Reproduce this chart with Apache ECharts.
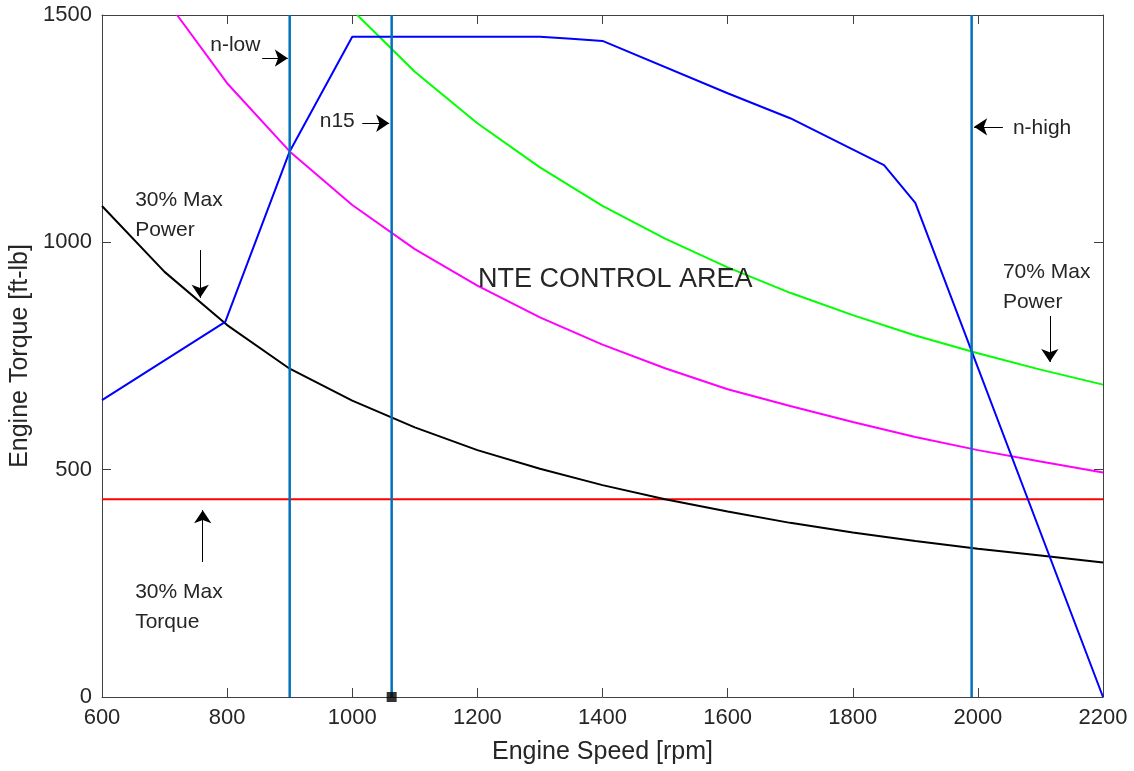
<!DOCTYPE html>
<html>
<head>
<meta charset="utf-8">
<script src="https://cdn.jsdelivr.net/npm/echarts@6/dist/echarts.min.js"></script>
<style>html,body{margin:0;padding:0;background:#fff}#c{width:1134px;height:771px}</style>
</head>
<body>
<div id="c"></div>
<script>
// ---- data ----
const xTicks = [600, 800, 1000, 1200, 1400, 1600, 1800, 2000, 2200];
const yTicks = [0, 500, 1000, 1500];

// lug curve (max torque curve)
const lugCurve = [[600,653],[797,825],[900,1200],[1000,1452],[1300,1452],[1350,1448],[1400,1443],[1600,1328],[1700,1273],[1850,1170],[1900,1087],[2200,0]];
// 30% of max power
const power30 = [[600,1080],[700,935],[800,818],[900,722],[1000,652],[1100,593],[1200,543],[1300,502],[1400,466],[1500,435],[1600,408],[1700,383],[1800,362],[1900,343],[2000,326],[2100,311],[2200,296]];
// 50% of max power
const power50 = [[720,1500],[800,1350],[900,1200],[1000,1082],[1100,985],[1200,905],[1300,835],[1400,775],[1500,723],[1600,677],[1700,640],[1800,605],[1900,572],[2000,543],[2100,518],[2200,494]];
// 70% of max power
const power70 = [[1008,1500],[1100,1375],[1200,1262],[1300,1165],[1400,1080],[1500,1008],[1600,945],[1700,889],[1800,840],[1900,795],[2000,756],[2100,720],[2200,687]];
// 30% of max torque
const torque30 = [[600,435],[2200,435]];
// speed limits
const nLow = 900, n15 = 1063, nHigh = 1990;
const markerPoint = [[1063, 0]];

// annotations: [text, x, y(center), fontSize]
const labels = [
  ['n-low', 773, 1434, 21],
  ['n15', 948, 1267, 21],
  ['n-high', 2056, 1251, 21],
  ['NTE CONTROL AREA', 1201, 919, 27],
  ['30% Max', 653, 1093, 21],
  ['Power', 653, 1027, 21],
  ['70% Max', 2040, 935, 21],
  ['Power', 2040, 869, 21],
  ['30% Max', 653, 231, 21],
  ['Torque', 653, 165, 21]
];
// arrows: [[x1,y1],[x2,y2]] (head at second point)
const arrows = [
  [[856, 1405], [897, 1405]],
  [[1016, 1262], [1059, 1262]],
  [[2040, 1254], [1994, 1254]],
  [[757, 983], [757, 878]],
  [[2115, 838], [2115, 737]],
  [[761, 297], [761, 411]]
];

const TXT = '#262626', AX = '#404040';
const FONT = '"Liberation Sans", Arial, Helvetica, sans-serif';

const chart = echarts.init(document.getElementById('c'), null, {renderer: 'canvas'});

function vline(x) { return [[x, 0], [x, 1500]]; }
function lineSeries(data, color, width) {
  return {type: 'line', data: data, symbol: 'none', clip: true, silent: true,
    lineStyle: {color: color, width: width}, xAxisIndex: 0, yAxisIndex: 0, z: 3};
}
const plain = v => String(v);

const baseX = {type: 'value', min: 600, max: 2200, interval: 200};
const baseY = {type: 'value', min: 0, max: 1500, interval: 500};

chart.setOption({
  animation: false,
  backgroundColor: '#fff',
  grid: {left: 102, right: 31, top: 15, bottom: 74, containLabel: false, outerBoundsMode: 'none'},
  xAxis: [
    Object.assign({}, baseX, {
      position: 'bottom',
      name: 'Engine Speed [rpm]', nameLocation: 'middle', nameGap: 43,
      nameTextStyle: {color: TXT, fontSize: 25, fontFamily: FONT},
      axisLine: {show: true, onZero: false, lineStyle: {color: AX, width: 1}},
      axisTick: {show: true, inside: true, length: 9, lineStyle: {color: AX}},
      axisLabel: {color: TXT, fontSize: 22, fontFamily: FONT, margin: 10,
        customValues: xTicks, formatter: plain},
      splitLine: {show: false}
    }),
    Object.assign({}, baseX, {
      position: 'top',
      axisLine: {show: true, onZero: false, lineStyle: {color: AX, width: 1}},
      axisTick: {show: true, inside: true, length: 9, lineStyle: {color: AX}},
      axisLabel: {show: false}, splitLine: {show: false}
    })
  ],
  yAxis: [
    Object.assign({}, baseY, {
      position: 'left',
      name: 'Engine Torque [ft-lb]', nameLocation: 'middle', nameGap: 66,
      nameTextStyle: {color: TXT, fontSize: 25, fontFamily: FONT},
      axisLine: {show: true, onZero: false, lineStyle: {color: AX, width: 1}},
      axisTick: {show: true, inside: true, length: 9, lineStyle: {color: AX}},
      axisLabel: {color: TXT, fontSize: 22, fontFamily: FONT, margin: 10,
        customValues: yTicks, formatter: plain},
      splitLine: {show: false}
    }),
    Object.assign({}, baseY, {
      position: 'right',
      axisLine: {show: true, onZero: false, lineStyle: {color: AX, width: 1}},
      axisTick: {show: true, inside: true, length: 9, lineStyle: {color: AX}},
      axisLabel: {show: false}, splitLine: {show: false}
    })
  ],
  series: [
    lineSeries(torque30, '#ff0000', 2),
    lineSeries(power30, '#000000', 2),
    lineSeries(power50, '#ff00ff', 2),
    lineSeries(power70, '#00ff00', 2),
    lineSeries(lugCurve, '#0000ff', 2),
    lineSeries(vline(nLow), '#0072BD', 2.5),
    lineSeries(vline(n15), '#0072BD', 2.5),
    lineSeries(vline(nHigh), '#0072BD', 2.5),
    {type: 'scatter', data: markerPoint, symbol: 'rect', symbolSize: 10,
      itemStyle: {color: '#000'}, z: 6, clip: false, silent: true},
    {type: 'lines', coordinateSystem: 'cartesian2d', polyline: false,
      symbol: ['none', 'arrow'], symbolSize: [0, 13],
      lineStyle: {color: '#000', width: 1, opacity: 1},
      data: arrows.map(a => ({coords: a})), z: 5, silent: true}
  ]
});

// text annotations placed through the axes' scales
const g = labels.map(l => {
  const p = chart.convertToPixel({gridIndex: 0}, [l[1], l[2]]);
  return {type: 'text', x: p[0], y: p[1], z: 10, silent: true,
    style: {text: l[0], fill: TXT, font: l[3] + 'px ' + FONT,
      textAlign: 'left', textVerticalAlign: 'middle', verticalAlign: 'middle'}};
});
chart.setOption({graphic: g});
</script>
</body>
</html>
